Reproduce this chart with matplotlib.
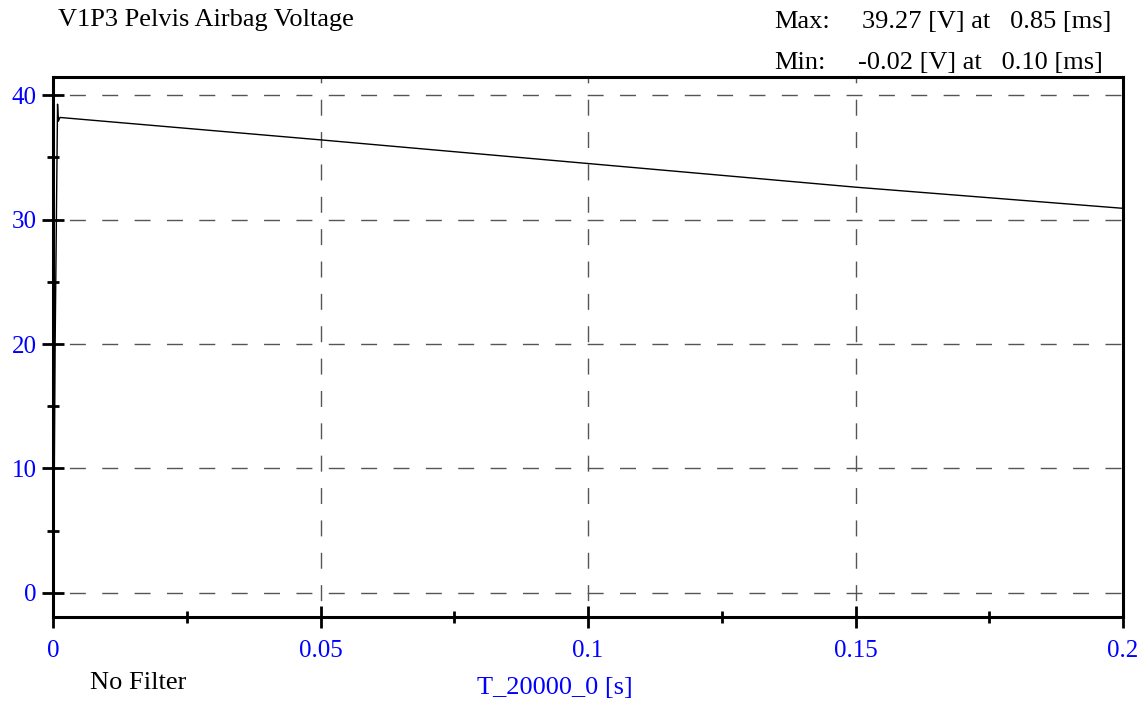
import numpy as np
import matplotlib.pyplot as plt
from matplotlib.ticker import MultipleLocator

plt.rcParams['font.family'] = ['Liberation Serif', 'DejaVu Serif']

# signal samples
t = [0.0, 0.0001, 0.0004, 0.00085, 0.001, 0.0013, 0.05, 0.1, 0.15, 0.2]
volt = [0.0, -0.02, 20.0, 39.27, 37.9, 38.2, 36.4, 34.5, 32.6, 30.9]

xticks = [0, 0.05, 0.1, 0.15, 0.2]
xticklabels = ['0', '0.05', '0.1', '0.15', '0.2']
yticks = [0, 10, 20, 30, 40]

fig = plt.figure(figsize=(11.47, 7.04), dpi=100)
ax = fig.add_axes([53/1147, 87/704, 1070/1147, 540/704])

ax.plot(t, volt, color='black', lw=1.0)

ax.set_xlim(0, 0.2)
ax.set_ylim(-1.93, 41.45)
ax.set_xticks(xticks)
ax.set_xticklabels(xticklabels)
ax.set_yticks(yticks)
ax.xaxis.set_minor_locator(MultipleLocator(0.025))
ax.yaxis.set_minor_locator(MultipleLocator(5))

ax.tick_params(which='major', direction='inout', length=15.5, width=2.0,
               labelsize=18, labelcolor='#0000ff', pad=4)
ax.tick_params(which='minor', direction='inout', length=8.5, width=2.0)
ax.tick_params(axis='x', which='major', pad=9)

for s in ax.spines.values():
    s.set_linewidth(2.2)

ax.grid(True, which='major', color='#555555', lw=1.0,
        linestyle=(11.5, (11.5, 11.8)))

fs = 19
fig.text(58/1147, 1 - 20/704, 'V1P3 Pelvis Airbag Voltage', fontsize=fs,
         va='center', ha='left')
fig.text(774/1147, 1 - 22/704, 'Max:', fontsize=fs, va='center', ha='left')
fig.text(862/1147, 1 - 22/704, '39.27 [V] at   0.85 [ms]', fontsize=fs,
         va='center', ha='left')
fig.text(774/1147, 1 - 63/704, 'Min:', fontsize=fs, va='center', ha='left')
fig.text(858/1147, 1 - 63/704, '-0.02 [V] at   0.10 [ms]', fontsize=fs,
         va='center', ha='left')
fig.text(90/1147, 1 - 683/704, 'No Filter', fontsize=fs, va='center', ha='left')
fig.text(555/1147, 1 - 688/704, 'T_20000_0 [s]', fontsize=fs, va='center',
         ha='center', color='#0000ff')

fig.savefig('out.png', dpi=100)
